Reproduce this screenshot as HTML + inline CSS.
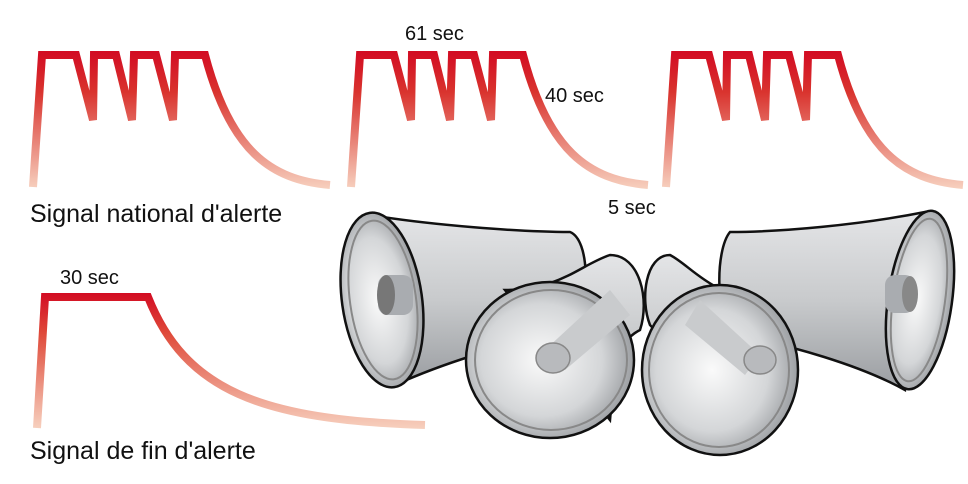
<!DOCTYPE html>
<html><head><meta charset="utf-8"><style>
body{margin:0;background:#fff}
svg{display:block}
text{font-family:"Liberation Sans",sans-serif;fill:#111}
</style></head><body>
<svg width="968" height="484" viewBox="0 0 968 484">
<defs>
<linearGradient id="r" x1="0" y1="50" x2="0" y2="190" gradientUnits="userSpaceOnUse">
<stop offset="0" stop-color="#d20a22"/><stop offset="0.3" stop-color="#d9332e"/><stop offset="1" stop-color="#f7d2c0"/></linearGradient>
<linearGradient id="r2" x1="0" y1="292" x2="0" y2="430" gradientUnits="userSpaceOnUse">
<stop offset="0" stop-color="#d20a22"/><stop offset="0.3" stop-color="#df4a3a"/><stop offset="1" stop-color="#f7d2c0"/></linearGradient>
<radialGradient id="g" cx="0.45" cy="0.5" r="0.6">
<stop offset="0" stop-color="#fafafa"/><stop offset="0.6" stop-color="#d4d6d8"/><stop offset="1" stop-color="#8d9094"/></radialGradient>
<linearGradient id="b" x1="0" y1="0" x2="0" y2="1">
<stop offset="0" stop-color="#e4e5e7"/><stop offset="0.5" stop-color="#c8cacc"/><stop offset="1" stop-color="#9a9da1"/></linearGradient>
<g id="w"><path d="M33,187 L42,55 L76,55 L93,120 L94,55 L116,55 L132,120 L134,55 L156,55 L173,120 L175,55 L205,55 C230,150 270,180 330,185" fill="none" stroke="url(#r)" stroke-width="8" stroke-linejoin="miter"/></g>
</defs>
<use href="#w"/>
<use href="#w" x="318"/>
<use href="#w" x="633"/>
<path d="M37,428 L45,297 L148,297 C185,390 260,420 425,425" fill="none" stroke="url(#r2)" stroke-width="8"/>
<text x="405" y="40" font-size="20">61 sec</text>
<text x="545" y="102" font-size="20">40 sec</text>
<text x="608" y="214" font-size="20">5 sec</text>
<text x="30" y="222" font-size="25">Signal national d'alerte</text>
<text x="60" y="284" font-size="20">30 sec</text>
<text x="30" y="459" font-size="25">Signal de fin d'alerte</text>
<g stroke="#111" stroke-width="2.5">
<path d="M370,215 C430,225 520,232 570,232 C590,240 590,300 575,330 C520,340 450,360 395,385 Z" fill="url(#b)"/>
<ellipse cx="382" cy="300" rx="40" ry="88" transform="rotate(-8 382 300)" fill="url(#g)"/>
<ellipse cx="383" cy="300" rx="33" ry="80" transform="rotate(-8 383 300)" fill="none" stroke="#888" stroke-width="2"/>
<rect x="378" y="275" width="35" height="40" rx="10" fill="#a9acb0" stroke="none"/>
<ellipse cx="386" cy="295" rx="9" ry="20" fill="#777" stroke="none"/>
<path d="M925,212 C860,225 780,232 730,232 C715,250 715,320 735,335 C790,345 860,365 905,390 Z" fill="url(#b)"/>
<ellipse cx="920" cy="300" rx="32" ry="90" transform="rotate(8 920 300)" fill="url(#g)"/>
<ellipse cx="919" cy="300" rx="26" ry="82" transform="rotate(8 919 300)" fill="none" stroke="#888" stroke-width="2"/>
<rect x="885" y="275" width="30" height="38" rx="10" fill="#a9acb0" stroke="none"/>
<ellipse cx="910" cy="294" rx="8" ry="18" fill="#888" stroke="none"/>
<path d="M505,290 C560,290 580,265 610,255 C640,255 650,300 640,330 C620,340 615,360 610,420 Z" fill="url(#b)"/>
<ellipse cx="550" cy="360" rx="84" ry="78" fill="url(#g)"/>
<ellipse cx="551" cy="360" rx="76" ry="70" fill="none" stroke="#888" stroke-width="2"/>
<path d="M545,350 L610,290 L630,315 L565,370 Z" fill="#c9cbcd" stroke="none"/>
<ellipse cx="553" cy="358" rx="17" ry="15" fill="#b8babd" stroke-width="1.5" stroke="#888"/>
<path d="M760,300 C710,295 690,265 670,255 C645,255 640,300 650,325 C670,345 680,370 690,420 Z" fill="url(#b)"/>
<ellipse cx="720" cy="370" rx="78" ry="85" fill="url(#g)"/>
<ellipse cx="719" cy="370" rx="70" ry="77" fill="none" stroke="#888" stroke-width="2"/>
<path d="M760,355 L700,300 L685,325 L745,375 Z" fill="#c9cbcd" stroke="none"/>
<ellipse cx="760" cy="360" rx="16" ry="14" fill="#b8babd" stroke-width="1.5" stroke="#888"/>
</g>
</svg>
</body></html>
